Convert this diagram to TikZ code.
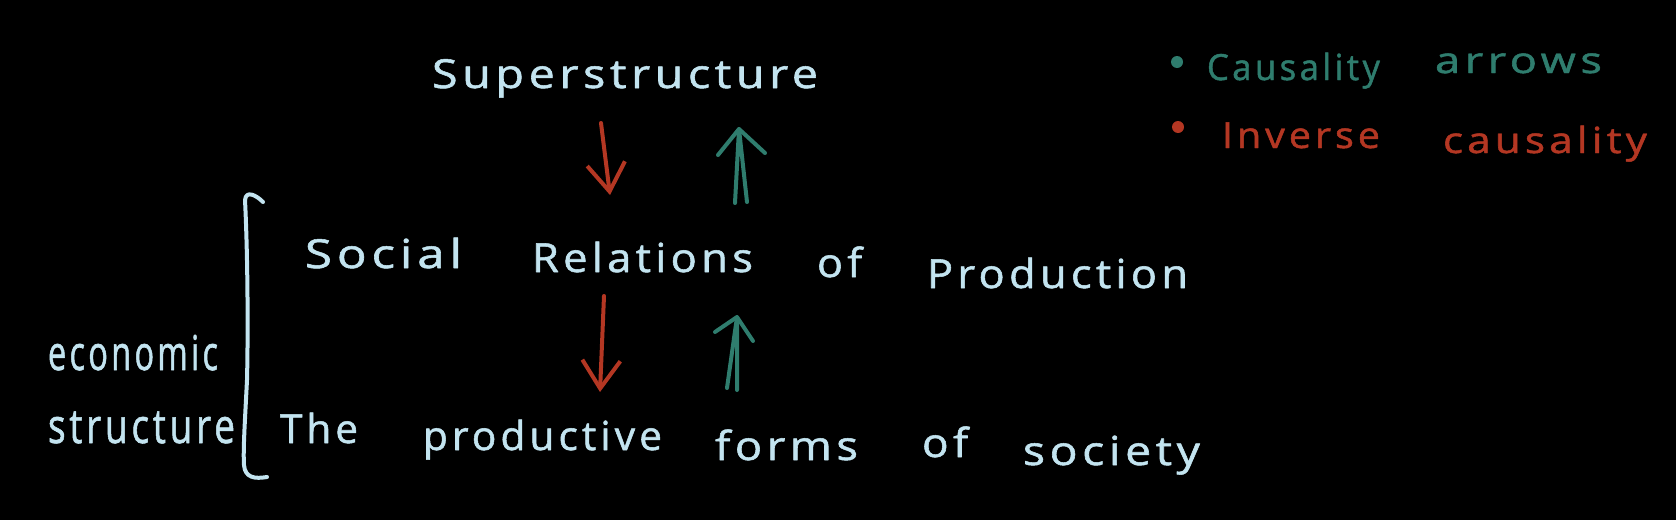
\documentclass[tikz,border=0pt]{standalone}
\usepackage{fontspec}
\setmainfont{Open Sans}[LetterSpace=10, FakeBold=1.3]
\usetikzlibrary{arrows.meta}
\definecolor{chalk}{RGB}{195,228,240}
\definecolor{tealc}{RGB}{47,125,110}
\definecolor{redc}{RGB}{180,55,35}
\newcommand{\hw}[3][0]{\raisebox{#1pt}{\resizebox{#2pt}{\height}{#3}}}
\begin{document}
\begin{tikzpicture}[x=1pt, y=-1pt, line cap=round, line join=round,
  txt/.style={anchor=base west, inner sep=0pt, outer sep=0pt, text=chalk, font=\fontsize{40}{48}\selectfont},
  big/.style={txt, font=\fontsize{48}{58}\selectfont},
  leg/.style={txt, font=\fontsize{36}{44}\selectfont},
  causal/.style={draw=tealc, line width=4pt},
  inverse/.style={draw=redc, line width=4pt, -{Straight Barb[length=28pt,width=38pt]}},
  brace/.style={draw=chalk, line width=4pt},
  bullet/.style={circle, inner sep=0pt, minimum size=12pt}]
\fill[black] (0,0) rectangle (1676,520);
\useasboundingbox (0,0) rectangle (1676,520);

% main text
\node[txt] (sup) at (432,88) {\hw{386}{Superstructure}};
\node[txt] (rel) at (305,270) {\hw[2]{157}{Social}\hspace{70pt}\hw[-2]{221}{Relations}\hspace{64pt}\hw[-7]{45}{of}\hspace{65pt}\hw[-18]{261}{Production}};
\node[txt] (prod) at (280,450) {\hw[7]{78}{The}\hspace{65pt}\hw{239}{productive}\hspace{53pt}\hw[-10]{143}{forms}\hspace{64pt}\hw[-7]{46}{of}\hspace{55pt}\hw[-15]{177}{society}};
\node[big] (eco) at (48,370) {\hw{170}{economic}};
\node[big] (str) at (48,443) {\hw{187}{structure}};

% legend
\node[bullet, fill=tealc] (b1) at (1177,62) {};
\node[bullet, fill=redc] (b2) at (1178,127) {};
\node[leg, text=tealc] (l1) at (1207,80) {\hw{173}{Causality}\hspace{55pt}\hw[7]{167}{arrows}};
\node[leg, text=redc] (l2) at (1222,148) {\hw{158}{Inverse}\hspace{63pt}\hw[-5]{204}{causality}};

% bracket
\draw[brace] (263,202) .. controls (256,195) and (246,190) .. (245,200)
  .. controls (248,260) and (248,340) .. (247,380)
  .. controls (245,420) and (243,450) .. (244,465)
  .. controls (245,478) and (255,479) .. (267,477);

% arrow end points
\coordinate (r1a) at (601,123); \coordinate (r1b) at (610,195);
\coordinate (r2a) at (604,296); \coordinate (r2b) at (600,392);
\coordinate (t1) at (739,129); \coordinate (t1l) at (735,203); \coordinate (t1r) at (747,202);
\coordinate (t1hl) at (718,155); \coordinate (t1hr) at (765,153);
\coordinate (t2) at (737,317); \coordinate (t2l) at (727,388); \coordinate (t2r) at (737,390);
\coordinate (t2hl) at (715,332); \coordinate (t2hr) at (753,341);

% inverse causality (red)
\draw[inverse] (r1a) -- (r1b);
\draw[inverse] (r2a) -- (r2b);

% causality (teal double arrows)
\draw[causal] (t1l) -- (t1) -- (t1r);
\draw[causal] (t1hl) -- (t1) -- (t1hr);
\draw[causal] (t2l) -- (t2) -- (t2r);
\draw[causal] (t2hl) -- (t2) -- (t2hr);
\end{tikzpicture}
\end{document}
